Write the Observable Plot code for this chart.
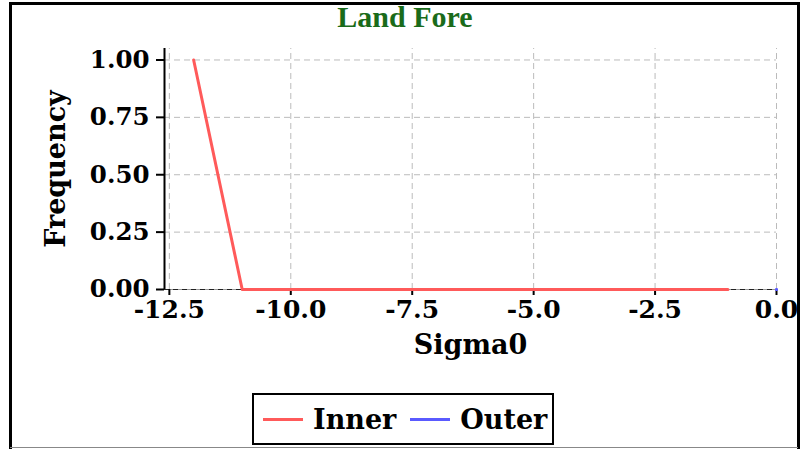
<!DOCTYPE html>
<html>
<head>
<meta charset="utf-8">
<script src="https://cdn.jsdelivr.net/npm/d3@7"></script>
<script src="https://cdn.jsdelivr.net/npm/@observablehq/plot@0.6"></script>
<style>
  html, body { margin: 0; padding: 0; background: #fff; }
  body { width: 812px; height: 449px; position: relative; overflow: hidden; font-family: "DejaVu Serif", serif; }
  #frame { position: absolute; left: 9px; top: 2px; width: 785px; height: 470px; border: 3px solid #000; box-sizing: content-box; }
  #title { position: absolute; left: 0; width: 810px; top: 0px; text-align: center; color: #1a6b1a; font-weight: bold; font-size: 30px; font-family: "Liberation Serif", serif; }
  #chart { position: absolute; left: 0; top: 0; }
  #legend { position: absolute; left: 252px; top: 393px; width: 298px; height: 48px; border: 2px solid #000; background: #fff; display: flex; align-items: center; font-weight: bold; font-size: 27px; }
  .item { display: flex; align-items: center; margin-left: 9px; }
  .sw { width: 40px; height: 3px; margin-right: 10px; }
  #gline { position: absolute; left: 10px; top: 447px; width: 788px; height: 1px; background: #888; }
</style>
</head>
<body>
<div id="frame"></div>
<div id="gline"></div>
<div id="chart"></div>
<div id="title">Land Fore</div>
<div id="legend"></div>
<script>
const seriesNames = ["Inner", "Outer"];
const seriesColors = ["#ff5a5a", "#5a5aff"];
const innerX = [-12, -11, -10, -9, -8, -7, -6, -5, -4, -3, -2, -1];
const innerY = [1, 0, 0, 0, 0, 0, 0, 0, 0, 0, 0, 0];
const outerX = [0];
const outerY = [0];
const xTicks = [-12.5, -10, -7.5, -5, -2.5, 0];
const yTicks = [0, 0.25, 0.5, 0.75, 1];

const inner = innerX.map((x, i) => ({x, y: innerY[i]}));
const outer = outerX.map((x, i) => ({x, y: outerY[i]}));

const font = "DejaVu Serif";
const chart = Plot.plot({
  width: 812,
  height: 380,
  marginLeft: 164,
  marginRight: 36,
  marginTop: 48,
  marginBottom: 91,
  style: {fontFamily: font, fontWeight: "bold", background: "transparent", overflow: "visible"},
  x: {domain: [-12.6, 0]},
  y: {domain: [0, 1.05]},
  marks: [
    Plot.gridX(xTicks, {stroke: "#bbb", strokeOpacity: 1, strokeDasharray: "6,4", y1: 0, y2: 1.05}),
    Plot.gridY(yTicks, {stroke: "#bbb", strokeOpacity: 1, strokeDasharray: "6,4"}),
    Plot.ruleY([0], {stroke: "#999"}),
    Plot.ruleY([0], {stroke: "#222", strokeDasharray: "5,4"}),
    Plot.ruleX([-12.6], {stroke: "#000", strokeWidth: 2}),
    Plot.axisX(xTicks, {tickSize: 6, tickPadding: 5, fontSize: 25, fontWeight: "bold", strokeWidth: 2, tickFormat: d => d.toFixed(1), label: null}),
    Plot.axisY(yTicks, {tickSize: 8, tickPadding: 7, fontSize: 24.5, fontWeight: "bold", strokeWidth: 2, tickFormat: d => d.toFixed(2), label: null}),
    Plot.line(inner, {x: "x", y: "y", stroke: seriesColors[0], strokeWidth: 3}),
    Plot.line(outer, {x: "x", y: "y", stroke: seriesColors[1], strokeWidth: 3}),
    Plot.dot(outer, {x: "x", y: "y", fill: seriesColors[1], r: 1.5}),
    Plot.text(["Sigma0"], {frameAnchor: "bottom", dy: 64, fontSize: 27, fontWeight: "bold", fill: "#000"}),
    Plot.text(["Frequency"], {frameAnchor: "left", textAnchor: "middle", dx: -108, rotate: -90, fontSize: 27, fontWeight: "bold", fill: "#000"})
  ]
});
document.getElementById("chart").appendChild(chart);

const legend = document.getElementById("legend");
seriesNames.forEach((n, i) => {
  const it = document.createElement("div");
  it.className = "item";
  it.style.marginLeft = i === 0 ? "9px" : "14px";
  it.innerHTML = `<span class="sw" style="background:${seriesColors[i]}"></span><span>${n}</span>`;
  legend.appendChild(it);
});
</script>
</body>
</html>
